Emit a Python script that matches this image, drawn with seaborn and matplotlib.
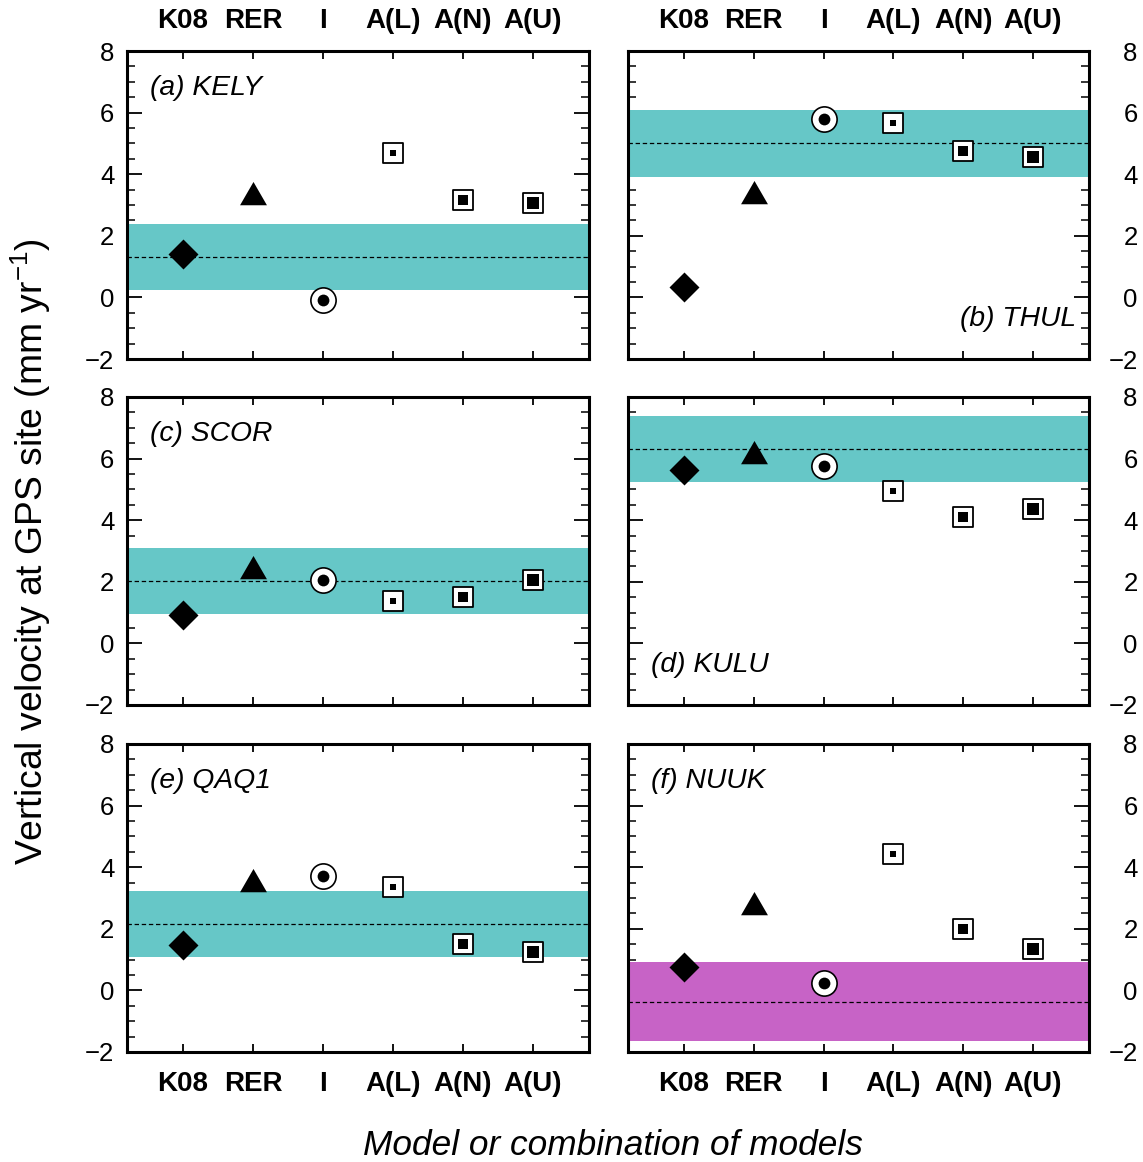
import numpy as np
import pandas as pd
import matplotlib
matplotlib.use("Agg")
import matplotlib.pyplot as plt
import seaborn as sns
from matplotlib.ticker import MultipleLocator

# ---------------- data ----------------
models = ["K08", "RER", "I", "A(L)", "A(N)", "A(U)"]
sites = ["KELY", "THUL", "SCOR", "KULU", "QAQ1", "NUUK"]
panel_tags = ["(a)", "(b)", "(c)", "(d)", "(e)", "(f)"]

k08 = [1.42, 0.33, 0.91, 5.62, 1.46, 0.75]
rer = [3.25, 3.28, 2.34, 6.08, 3.44, 2.69]
ice = [-0.09, 5.80, 2.05, 5.75, 3.70, 0.23]
a_l = [4.70, 5.67, 1.36, 4.94, 3.34, 4.44]
a_n = [3.17, 4.76, 1.49, 4.09, 1.49, 2.00]
a_u = [3.06, 4.57, 2.05, 4.35, 1.26, 1.33]

gps_rate = [1.31, 5.01, 2.01, 6.31, 2.14, -0.37]
gps_sigma = [1.07, 1.09, 1.07, 1.085, 1.07, 1.28]
band_colors = ["#66C7C7", "#66C7C7", "#66C7C7", "#66C7C7", "#66C7C7", "#C763C6"]

values = {"K08": k08, "RER": rer, "I": ice, "A(L)": a_l, "A(N)": a_n, "A(U)": a_u}
rows = []
for mi, m in enumerate(models):
    for si, s in enumerate(sites):
        rows.append({"site": s, "model": m, "pos": mi, "value": values[m][si]})
df = pd.DataFrame(rows)

# ---------------- style ----------------
sns.set_theme(style="ticks")
plt.rcParams["font.family"] = ["Liberation Sans", "DejaVu Sans"]
plt.rcParams["axes.unicode_minus"] = True
for k in ["text.color", "axes.labelcolor", "xtick.color", "ytick.color", "axes.edgecolor"]:
    plt.rcParams[k] = "black"

fig = plt.figure(figsize=(11.43, 11.62), dpi=100)

lefts = [0.1111, 0.5494]
widths = [0.4042, 0.4033]
bottoms = [0.6910, 0.3933, 0.0947]
height = 0.2651

tri = [(0.0, 1.0), (-0.866, -0.5), (0.866, -0.5)]
inner_sq = {"A(L)": 18.5, "A(N)": 42, "A(U)": 74}

label_pos = [(0.05, 0.88, "left"), (0.972, 0.13, "right"),
             (0.05, 0.88, "left"), (0.05, 0.13, "left"),
             (0.05, 0.88, "left"), (0.05, 0.88, "left")]

for i, site in enumerate(sites):
    r, c = divmod(i, 2)
    ax = fig.add_axes([lefts[c], bottoms[r], widths[c], height])
    sub = df[df.site == site]

    lo = gps_rate[i] - gps_sigma[i]
    hi = gps_rate[i] + gps_sigma[i]
    ax.axhspan(lo, hi, color=band_colors[i], lw=0, zorder=1)
    ax.axhline(gps_rate[i], color="black", lw=0.9, ls=(0, (3.5, 2.2)), zorder=2)

    d = sub[sub.model == "K08"]
    sns.scatterplot(data=d, x="pos", y="value", marker="D", s=233, color="black",
                    linewidth=0, ax=ax, zorder=4)
    d = sub[sub.model == "RER"]
    sns.scatterplot(data=d, x="pos", y="value", marker=tri, s=500, color="black",
                    linewidth=0, ax=ax, zorder=4)
    d = sub[sub.model == "I"]
    sns.scatterplot(data=d, x="pos", y="value", marker="o", s=330, color="white",
                    edgecolor="black", linewidth=1.2, ax=ax, zorder=4)
    sns.scatterplot(data=d, x="pos", y="value", marker="o", s=72, color="black",
                    linewidth=0, ax=ax, zorder=5)
    for m in ["A(L)", "A(N)", "A(U)"]:
        d = sub[sub.model == m]
        sns.scatterplot(data=d, x="pos", y="value", marker="s", s=190, color="white",
                        edgecolor="black", linewidth=1.3, ax=ax, zorder=4)
        sns.scatterplot(data=d, x="pos", y="value", marker="s", s=inner_sq[m],
                        color="black", linewidth=0, ax=ax, zorder=5)

    ax.set_xlim(-0.8, 5.8)
    ax.set_ylim(-2, 8)
    ax.set_xlabel("")
    ax.set_ylabel("")
    ax.set_xticks(range(len(models)))
    ax.set_xticklabels(models)
    ax.yaxis.set_major_locator(MultipleLocator(2))
    ax.yaxis.set_minor_locator(MultipleLocator(0.5))

    for sp in ax.spines.values():
        sp.set_linewidth(2.2)
        sp.set_color("black")

    ax.tick_params(axis="x", which="major", direction="in", top=True, bottom=True,
                   length=6, width=1.3, labelsize=20, colors="black",
                   labeltop=(r == 0), labelbottom=(r == 2),
                   pad=14 if r == 2 else 12)
    ax.tick_params(axis="x", which="minor", bottom=False, top=False)
    ax.tick_params(axis="y", which="major", direction="in", left=True, right=True,
                   length=11, width=1.3, labelsize=18.5, colors="black",
                   labelleft=(c == 0), labelright=(c == 1),
                   pad=9 if c == 0 else 35)
    ax.tick_params(axis="y", which="minor", direction="in", left=True, right=True,
                   length=5.5, width=1.1, colors="black")
    for tk in ax.xaxis.get_major_ticks():
        tk.label1.set_fontweight("bold")
        tk.label2.set_fontweight("bold")
    if c == 1:
        for tk in ax.yaxis.get_major_ticks():
            tk.label2.set_horizontalalignment("right")

    lx, ly, ha = label_pos[i]
    ax.text(lx, ly, f"{panel_tags[i]} {site}", transform=ax.transAxes,
            fontsize=20.3, fontstyle="italic", ha=ha, va="center", zorder=6)
    leg = ax.get_legend()
    if leg is not None:
        leg.remove()

fig.text(0.027, 0.525, "Vertical velocity at GPS site (mm yr$^{\\mathregular{-1}}$)",
         rotation=90, fontsize=26.8, ha="center", va="center")
fig.text(0.536, 0.0146, "Model or combination of models", fontsize=25.4,
         fontstyle="italic", ha="center", va="center")

fig.savefig("out.png", dpi=100)
